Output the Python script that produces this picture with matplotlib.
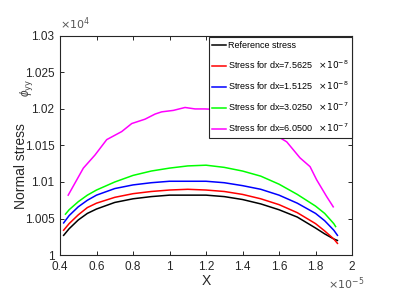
import numpy as np
import matplotlib.pyplot as plt

# x in units of 1e-5, stress in units of 1e4
x = [0.42, 0.45, 0.5, 0.55, 0.6, 0.7, 0.8, 0.9, 1.0, 1.1, 1.2, 1.3, 1.4, 1.5, 1.6, 1.7, 1.8, 1.85, 1.9, 1.92]
s_ref = [1.0027, 1.0036, 1.0048, 1.0057, 1.0063, 1.0072, 1.0077, 1.0080, 1.0082, 1.0082,
         1.0082, 1.0080, 1.0076, 1.0070, 1.0062, 1.0052, 1.0037, 1.0029, 1.0022, 1.0020]
s_dx1 = [1.0034, 1.0043, 1.0055, 1.0065, 1.0071, 1.0079, 1.0084, 1.0087, 1.0089, 1.0090,
         1.0089, 1.0087, 1.0083, 1.0077, 1.0069, 1.0058, 1.0043, 1.0033, 1.0022, 1.0016]
s_dx2 = [1.0044, 1.0054, 1.0066, 1.0075, 1.0082, 1.0091, 1.0096, 1.0099, 1.0101, 1.0101,
         1.0101, 1.0099, 1.0095, 1.0090, 1.0082, 1.0071, 1.0057, 1.0047, 1.0034, 1.0027]
x_dx3 = [0.43, 0.45, 0.5, 0.55, 0.6, 0.7, 0.8, 0.9, 1.0, 1.1, 1.2, 1.3, 1.4, 1.5, 1.6, 1.7, 1.8, 1.85, 1.9, 1.91]
s_dx3 = [1.0056, 1.0062, 1.0073, 1.0082, 1.0089, 1.0100, 1.0109, 1.0115, 1.0119, 1.0122,
         1.0123, 1.0120, 1.0115, 1.0108, 1.0097, 1.0083, 1.0067, 1.0057, 1.0043, 1.0039]
x_dx4 = [0.445, 0.528, 0.592, 0.656, 0.738, 0.793, 0.866, 0.921, 0.957, 1.021, 1.085, 1.14,
         1.195, 1.27, 1.35, 1.45, 1.548, 1.642, 1.715, 1.77, 1.806, 1.861, 1.897]
s_dx4 = [1.0082, 1.0119, 1.0137, 1.0158, 1.0169, 1.0180, 1.0186, 1.0193, 1.0196, 1.0198, 1.0202,
         1.0200, 1.0200, 1.0199, 1.0195, 1.0184, 1.0169, 1.0155, 1.0133, 1.0121, 1.0103, 1.0080, 1.0066]

labels = ['Reference stress', 'Stress for dx=7.5625', 'Stress for dx=1.5125',
          'Stress for dx=3.0250', 'Stress for dx=6.0500']
exps = ['', '-8', '-8', '-7', '-7']
xticks = [0.4, 0.6, 0.8, 1.0, 1.2, 1.4, 1.6, 1.8, 2.0]
xticklabels = ['0.4', '0.6', '0.8', '1', '1.2', '1.4', '1.6', '1.8', '2']
yticks = [1.0, 1.005, 1.01, 1.015, 1.02, 1.025, 1.03]
yticklabels = ['1', '1.005', '1.01', '1.015', '1.02', '1.025', '1.03']

plt.rcParams['font.family'] = ['Liberation Sans Narrow', 'Liberation Sans', 'DejaVu Sans']
plt.rcParams['mathtext.fontset'] = 'custom'
plt.rcParams['mathtext.rm'] = 'Liberation Sans Narrow'
plt.rcParams['mathtext.it'] = 'Liberation Sans:italic'

fig = plt.figure(figsize=(3.96, 2.99), dpi=100)
ax = fig.add_axes([0.1515, 0.147, 0.7375, 0.733])
gray = '#262626'

ax.plot(x, s_ref, color='black', lw=1.1)
ax.plot(x, s_dx1, color='red', lw=1.1)
ax.plot(x, s_dx2, color='blue', lw=1.1)
ax.plot(x_dx3, s_dx3, color='#00ff00', lw=1.1)
ax.plot(x_dx4, s_dx4, color='magenta', lw=1.1)

ax.set_xlim(0.4, 2.0)
ax.set_ylim(1.0, 1.03)
ax.set_xticks(xticks)
ax.set_xticklabels(xticklabels)
ax.set_yticks(yticks)
ax.set_yticklabels(yticklabels)
ax.tick_params(direction='in', top=True, right=True, length=3, width=0.7,
               labelsize=8.5, colors=gray, pad=4)
for sp in ax.spines.values():
    sp.set_color(gray)
    sp.set_linewidth(0.8)

ax.set_xlabel('X', fontsize=10, color=gray, labelpad=1,
              family=['Liberation Sans', 'DejaVu Sans'])
fig.text(0.054, 0.445, 'Normal stress', rotation=90, fontsize=10, color=gray,
         ha='center', va='center', family=['Liberation Sans', 'DejaVu Sans'])
fig.text(0.066, 0.705, r'$\phi_{\rm yy}$', rotation=90, fontsize=8.5, color='#444444',
         ha='center', va='center')
fig.text(0.152, 0.893, r'$\times10^{4}$', fontsize=8, color='#555555', ha='left', va='bottom')
fig.text(0.828, 0.025, r'$\times10^{-5}$', fontsize=8, color='#555555', ha='left', va='bottom')

leg_labels = []
for lab, e in zip(labels, exps):
    if e:
        leg_labels.append(lab + r'   $\times10^{' + e + '}$')
    else:
        leg_labels.append(lab)
leg = ax.legend(leg_labels, loc='upper right', bbox_to_anchor=(1.0, 0.993), fontsize=6.5,
                handlelength=1.5, handletextpad=0.2, borderpad=0.4, labelspacing=0.95,
                borderaxespad=0.0, fancybox=False, framealpha=1, edgecolor=gray)
leg.get_frame().set_linewidth(0.8)

fig.savefig('out.png', dpi=100)
